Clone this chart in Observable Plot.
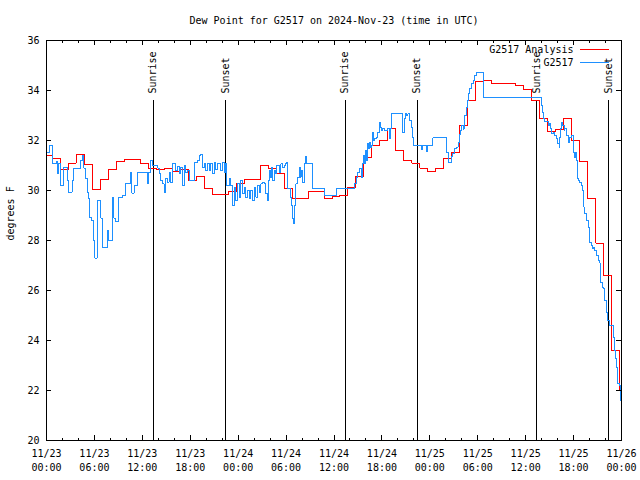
<!DOCTYPE html>
<html><head><meta charset="utf-8">
<script src="https://cdn.jsdelivr.net/npm/d3@7"></script>
<script src="https://cdn.jsdelivr.net/npm/@observablehq/plot@0.6"></script>
<style>body{margin:0;background:#fff} svg{display:block}</style>
</head><body><div id="chart"></div>
<script>
const titleText = "Dew Point for G2517 on 2024-Nov-23 (time in UTC)";
const yLabel = "degrees F";
const seriesNames = ["G2517 Analysis", "G2517"];
const seriesColors = ["#ff0000", "#1e90ff"];

// hours since 2024-11-23 00:00 UTC
const redHours = [-0.25,0.75,1.75,2.75,3.75,4.75,5.75,6.75,7.75,8.75,9.75,10.75,11.75,12.75,13.75,14.75,15.75,16.75,17.75,18.75,19.75,20.75,21.75,22.75,23.75,24.75,25.75,26.75,27.75,28.75,29.75,30.75,31.75,32.75,33.75,34.75,35.75,36.75,37.75,38.75,39.75,40.75,41.75,42.75,43.75,44.75,45.75,46.75,47.75,48.75,49.75,50.75,51.75,52.75,53.75,54.75,55.75,56.75,57.75,58.75,59.75,60.75,61.75,62.75,63.75,64.75,65.75,66.75,67.75,68.75,69.75,70.75,71.75,72.0];
const redValues = [31.4,31.3,30.85,31.1,31.45,31.05,30.05,30.45,30.85,31.15,31.25,31.25,31.1,30.9,30.83,30.9,30.77,30.85,30.4,30.55,30.1,29.84,29.84,29.97,30.27,30.43,30.43,31.0,30.9,30.7,30.1,29.67,29.67,29.96,29.96,29.67,29.76,29.8,30.13,30.56,31.33,31.8,32.0,32.47,31.6,31.2,31.1,30.9,30.75,30.87,31.3,31.53,32.6,33.6,34.36,34.4,34.27,34.27,34.27,34.2,34.05,33.6,32.87,32.36,32.44,32.87,32.0,31.16,29.67,27.9,26.6,23.6,22.0,19.8];

const blueHours = [0.0,0.41,0.72,1.25,1.38,1.54,1.76,2.17,2.6,2.8,3.2,3.35,4.27,4.48,4.68,4.83,5.1,5.27,5.43,5.65,5.86,6.06,6.36,6.78,6.99,7.62,7.82,8.24,8.45,8.66,9.07,9.5,9.91,10.54,10.7,10.98,11.38,12.63,12.8,13.05,13.26,13.9,14.09,14.3,14.5,14.72,14.93,15.14,15.35,15.56,15.77,16.19,16.4,16.6,16.81,17.02,17.23,17.44,17.65,17.85,18.48,18.9,19.1,19.32,19.53,19.74,19.95,20.16,20.37,20.58,20.79,21.0,21.21,21.42,21.83,22.04,22.25,22.45,22.58,22.87,23.08,23.3,23.5,23.71,23.92,24.13,24.34,24.55,24.76,24.97,25.18,25.39,25.6,25.81,26.0,26.23,26.44,26.64,26.85,27.06,27.27,27.48,27.69,27.8,27.9,28.1,28.22,28.32,28.52,28.7,28.86,29.15,29.36,29.57,29.78,29.95,30.11,30.2,30.6,30.74,30.83,30.9,31.03,31.14,31.24,31.45,31.66,31.76,31.87,32.08,32.28,32.41,32.5,33.34,34.8,36.26,38.56,38.77,38.98,39.19,39.4,39.61,39.73,39.81,39.9,40.03,40.15,40.32,40.44,40.57,40.65,40.86,40.94,41.07,41.28,41.49,41.7,41.82,41.9,42.12,42.32,42.75,42.95,43.07,43.16,44.63,44.83,44.96,45.1,45.26,45.46,45.67,45.8,45.96,46.93,47.14,47.55,47.76,48.39,50.06,50.28,50.69,50.9,51.1,51.32,51.53,51.61,51.73,51.86,51.95,52.16,52.28,52.36,52.57,52.7,52.78,52.99,53.2,53.41,53.61,53.83,54.67,61.98,62.07,62.2,62.4,62.82,63.03,63.15,63.24,63.45,63.65,63.86,63.99,64.2,64.28,64.4,64.49,64.62,64.83,64.91,65.12,65.33,65.53,65.75,65.96,66.16,66.29,66.37,66.5,66.58,66.79,67.0,67.13,67.21,67.3,67.42,67.63,67.84,67.95,68.04,68.26,68.38,68.5,68.6,68.88,69.1,69.3,69.42,69.6,69.8,69.93,70.14,70.26,70.48,70.98,71.1,71.27,71.39,71.52,71.8,71.93,71.99];
const blueValues = [31.53,31.8,31.07,31.16,30.67,31.1,30.2,30.93,30.4,29.93,30.4,30.9,31.2,31.4,30.9,30.47,29.93,29.67,28.93,28.8,28.0,27.3,29.6,28.9,27.73,28.4,28.0,29.73,28.9,28.76,29.73,29.8,30.27,30.73,29.9,30.2,30.73,30.3,30.73,31.2,31.0,30.9,30.67,30.4,30.27,29.93,30.47,30.33,30.73,30.33,31.07,30.8,30.96,30.7,30.93,30.2,31.0,30.73,30.8,30.4,31.13,31.2,31.4,31.44,30.93,31.07,30.8,31.1,30.8,31.07,30.67,31.13,30.85,31.07,30.8,31.13,30.73,31.07,30.2,30.47,30.2,29.4,30.13,29.6,30.27,29.73,30.4,29.87,30.13,29.73,30.0,29.67,30.0,29.6,30.13,29.73,30.2,29.93,30.27,30.33,30.27,29.87,29.6,30.4,30.8,30.53,30.93,30.4,30.8,30.67,31.0,30.73,31.07,30.93,31.0,31.07,31.13,30.07,29.73,29.4,28.87,28.69,29.4,30.07,30.27,30.53,30.93,30.53,30.8,30.33,31.07,31.36,31.07,30.07,29.8,30.07,30.27,30.53,30.73,30.87,30.53,31.07,31.4,31.07,31.6,31.2,31.87,31.67,31.93,31.73,31.8,32.33,32.0,32.07,32.13,32.33,32.73,32.53,32.4,32.47,32.4,32.47,32.07,32.47,33.09,32.33,32.87,33.07,33.0,33.07,32.8,32.53,32.13,31.8,31.63,31.8,31.57,31.8,32.11,31.53,31.13,31.37,31.5,31.67,31.73,31.8,31.93,32.25,32.4,32.6,32.45,32.6,33.0,33.33,33.6,33.87,34.07,34.27,34.4,34.6,34.73,33.73,33.4,33.13,32.87,32.76,32.6,32.67,32.47,32.27,32.33,32.2,32.07,31.87,31.73,32.13,32.47,32.73,32.6,32.4,32.47,32.2,31.93,32.13,32.2,31.53,31.33,31.53,31.2,30.47,30.4,30.33,30.2,30.0,29.4,29.33,29.07,28.8,28.53,28.4,27.93,27.8,27.67,27.73,27.6,27.4,27.2,27.1,26.33,26.13,26.07,25.6,25.13,24.8,24.6,24.13,23.6,23.27,22.93,22.27,22.2,21.6,20.93];

const sunHours = [13.37, 22.42, 37.39, 46.42, 61.40, 70.39];
const sunLabels = ["Sunrise", "Sunset", "Sunrise", "Sunset", "Sunrise", "Sunset"];

const yTicks = [20, 22, 24, 26, 28, 30, 32, 34, 36];
const xMajorHours = [0, 6, 12, 18, 24, 30, 36, 42, 48, 54, 60, 66, 72];
const xMinorHours = [2, 4, 8, 10, 14, 16, 20, 22, 26, 28, 32, 34, 38, 40, 44, 46, 50, 52, 56, 58, 62, 64, 68, 70];

const t0 = Date.UTC(2024, 10, 23);
const toDate = h => new Date(t0 + h * 3600e3);
const red = redHours.map((h, i) => ({t: toDate(h), v: redValues[i]}));
const blue = blueHours.map((h, i) => ({t: toDate(h), v: blueValues[i]}));
const sun = sunHours.map((h, i) => ({t: toDate(h), label: sunLabels[i]}));
const xMajor = xMajorHours.map(toDate);
const xMinor = xMinorHours.map(toDate);
const fmtDate = d3.utcFormat("%m/%d");
const fmtTime = d3.utcFormat("%H:%M");

const crisp = {shapeRendering: "crispEdges"};
const txt = {fill: "black", lineAnchor: "middle"};
const plot = Plot.plot({
  width: 640, height: 480,
  marginLeft: 46, marginRight: 19, marginTop: 40, marginBottom: 40,
  style: {fontFamily: "'DejaVu Sans Mono', monospace", fontSize: "10px", background: "white", color: "black", overflow: "visible"},
  x: {type: "utc", domain: [toDate(0), toDate(72)], axis: null},
  y: {domain: [20, 36], axis: null},
  marks: [
    Plot.ruleX(sun, {x: "t", insetTop: 60, stroke: "black", ...crisp}),
    Plot.text(sun, {x: "t", frameAnchor: "top", dy: 53, rotate: -90, textAnchor: "start", text: "label", ...txt}),
    Plot.line(red, {x: "t", y: "v", curve: "step-after", stroke: seriesColors[0], strokeWidth: 1, clip: true, ...crisp}),
    Plot.line(blue, {x: "t", y: "v", curve: "step-after", stroke: seriesColors[1], strokeWidth: 1, clip: true, ...crisp}),
    Plot.tickX(xMajor, {x: d => d, insetTop: 395, stroke: "black", ...crisp}),
    Plot.tickX(xMajor, {x: d => d, insetBottom: 395, stroke: "black", ...crisp}),
    Plot.tickX(xMinor, {x: d => d, insetTop: 397.5, stroke: "black", ...crisp}),
    Plot.tickX(xMinor, {x: d => d, insetBottom: 397.5, stroke: "black", ...crisp}),
    Plot.tickY(yTicks, {y: d => d, insetRight: 570, stroke: "black", ...crisp}),
    Plot.tickY(yTicks, {y: d => d, insetLeft: 570, stroke: "black", ...crisp}),
    Plot.frame({stroke: "black", ...crisp}),
    Plot.text(yTicks, {y: d => d, frameAnchor: "left", dx: -7, textAnchor: "end", text: d => String(d), ...txt}),
    Plot.text(xMajor, {x: d => d, frameAnchor: "bottom", dy: 13, text: d => fmtDate(d), ...txt}),
    Plot.text(xMajor, {x: d => d, frameAnchor: "bottom", dy: 27, text: d => fmtTime(d), ...txt}),
    Plot.text([titleText], {frameAnchor: "top", dy: -20, text: d => d, ...txt}),
    Plot.text([yLabel], {frameAnchor: "left", dx: -36, rotate: -90, text: d => d, ...txt}),
    Plot.text([seriesNames[0]], {frameAnchor: "top-right", dx: -48, dy: 9, textAnchor: "end", text: d => d, ...txt}),
    Plot.text([seriesNames[1]], {frameAnchor: "top-right", dx: -48, dy: 22, textAnchor: "end", text: d => d, ...txt})
  ]
});
document.getElementById("chart").appendChild(plot);
// legend swatches
const svg = d3.select(plot);
[[49.5, seriesColors[0]], [62.5, seriesColors[1]]].forEach(([yy, c]) => {
  svg.append("line").attr("x1", 580).attr("x2", 609).attr("y1", yy).attr("y2", yy)
    .attr("stroke", c).attr("stroke-width", 1).attr("shape-rendering", "crispEdges");
});
</script>
</body></html>
